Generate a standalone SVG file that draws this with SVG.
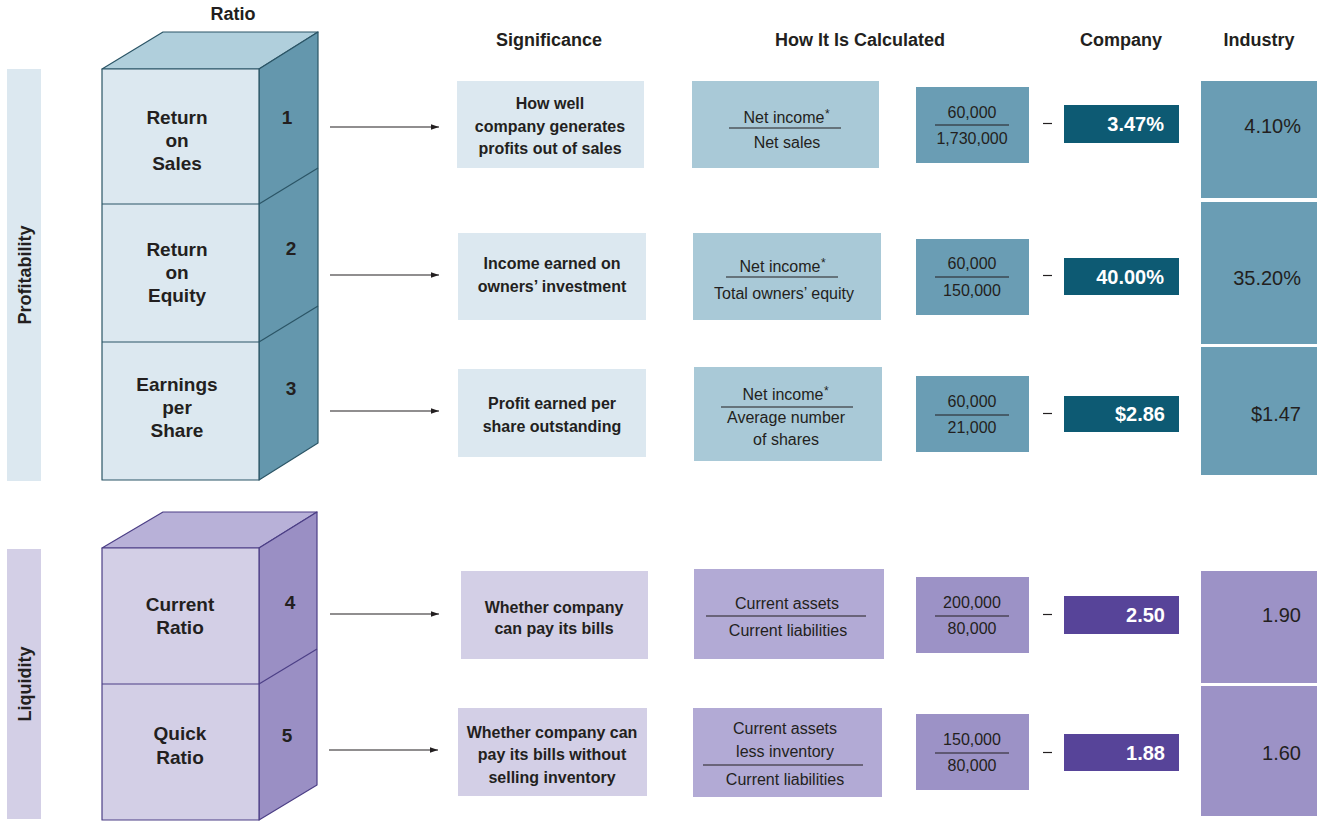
<svg xmlns="http://www.w3.org/2000/svg" width="1332" height="828" viewBox="0 0 1332 828">
<style>
text{font-family:"Liberation Sans",Arial,sans-serif;fill:#231f20}
.h{font-size:18px;font-weight:bold;text-anchor:middle}
.lab{font-size:19px;font-weight:bold;text-anchor:middle}
.sig{font-size:16px;font-weight:bold;text-anchor:middle}
.calc{font-size:16px;text-anchor:middle}
.ast{font-size:12px}
.num{font-size:16px;text-anchor:middle}
.co{font-size:20px;font-weight:bold;text-anchor:end;fill:#ffffff}
.ind{font-size:20px;text-anchor:end}
.p-light{fill:#dce8f0}
.p-top{fill:#b0cfdc}
.p-side{fill:#6497ad}
.p-calc{fill:#a9c9d7}
.p-num{fill:#6a9db4}
.p-co{fill:#0d5a73}
.l-light{fill:#d3cfe6}
.l-top{fill:#b8b1d8}
.l-side{fill:#9a8fc4}
.l-calc{fill:#b2aad5}
.l-num{fill:#9c92c6}
.l-co{fill:#574499}
.pe{stroke:#2b5566;stroke-width:1.2;stroke-linejoin:round}
.le{stroke:#4c3f86;stroke-width:1.2;stroke-linejoin:round}
.fl{stroke:#231f20;stroke-width:1.2}
.arrow{stroke:#231f20;stroke-width:1.2;fill:none;marker-end:url(#ah)}
</style>
<defs>
<marker id="ah" viewBox="0 0 10 10" refX="10" refY="5" markerWidth="8" markerHeight="8" markerUnits="userSpaceOnUse" orient="auto">
<path d="M0,1.5 L10,5 L0,8.5 Z" fill="#231f20"/>
</marker>
</defs>
<rect width="1332" height="828" fill="#ffffff"/>

<g id="headers">
<text class="h" x="233" y="20">Ratio</text>
<text class="h" x="549" y="46">Significance</text>
<text class="h" x="860" y="46">How It Is Calculated</text>
<text class="h" x="1121" y="46">Company</text>
<text class="h" x="1259" y="46">Industry</text>
</g>

<g id="profitability-bar">
<rect class="p-light" x="7" y="69" width="34" height="412"/>
<text class="h" transform="translate(31,275) rotate(-90)">Profitability</text>
</g>

<g id="liquidity-bar">
<rect class="l-light" x="7" y="549" width="34" height="270"/>
<text class="h" transform="translate(31,684) rotate(-90)">Liquidity</text>
</g>

<g id="cube-profitability">
<polygon class="p-top pe" points="102,69 163,32 318,32 259,69"/>
<polygon class="p-side pe" points="259,69 318,32 318,443 259,480"/>
<rect class="p-light pe" x="102" y="69" width="157" height="411"/>
<line class="pe" x1="102" y1="204" x2="259" y2="204"/>
<line class="pe" x1="102" y1="342" x2="259" y2="342"/>
<line class="pe" x1="259" y1="204" x2="318" y2="168"/>
<line class="pe" x1="259" y1="342" x2="318" y2="306"/>
</g>

<g id="ratio-1">
<text class="lab" x="177" y="124">Return</text>
<text class="lab" x="177" y="147">on</text>
<text class="lab" x="177" y="170">Sales</text>
<text class="lab" x="287" y="124">1</text>
</g>
<g id="ratio-2">
<text class="lab" x="177" y="256">Return</text>
<text class="lab" x="177" y="279">on</text>
<text class="lab" x="177" y="302">Equity</text>
<text class="lab" x="291" y="255">2</text>
</g>
<g id="ratio-3">
<text class="lab" x="177" y="391">Earnings</text>
<text class="lab" x="177" y="414">per</text>
<text class="lab" x="177" y="437">Share</text>
<text class="lab" x="291" y="395">3</text>
</g>

<g id="cube-liquidity">
<polygon class="l-top le" points="102,548 163,512 317,512 259,548"/>
<polygon class="l-side le" points="259,548 317,512 317,785 259,820"/>
<rect class="l-light le" x="102" y="548" width="157" height="272"/>
<line class="le" x1="102" y1="684" x2="259" y2="684"/>
<line class="le" x1="259" y1="684" x2="317" y2="649"/>
</g>

<g id="ratio-4">
<text class="lab" x="180" y="611">Current</text>
<text class="lab" x="180" y="634">Ratio</text>
<text class="lab" x="290" y="609">4</text>
</g>
<g id="ratio-5">
<text class="lab" x="180" y="740">Quick</text>
<text class="lab" x="180" y="764">Ratio</text>
<text class="lab" x="287" y="742">5</text>
</g>

<g id="connectors">
<line class="arrow" x1="330" y1="127" x2="439" y2="127"/>
<line class="arrow" x1="330" y1="275" x2="439" y2="275"/>
<line class="arrow" x1="330" y1="411" x2="439" y2="411"/>
<line class="arrow" x1="330" y1="614" x2="439" y2="614"/>
<line class="arrow" x1="329" y1="750" x2="438" y2="750"/>
</g>

<g id="sig-1">
<rect class="p-light" x="457" y="81" width="187" height="87"/>
<text class="sig" x="550" y="109">How well</text>
<text class="sig" x="550" y="132">company generates</text>
<text class="sig" x="550" y="154">profits out of sales</text>
</g>
<g id="sig-2">
<rect class="p-light" x="458" y="233" width="188" height="87"/>
<text class="sig" x="552" y="269">Income earned on</text>
<text class="sig" x="552" y="292">owners’ investment</text>
</g>
<g id="sig-3">
<rect class="p-light" x="458" y="369" width="188" height="88"/>
<text class="sig" x="552" y="409">Profit earned per</text>
<text class="sig" x="552" y="432">share outstanding</text>
</g>
<g id="sig-4">
<rect class="l-light" x="461" y="571" width="187" height="88"/>
<text class="sig" x="554" y="613">Whether company</text>
<text class="sig" x="554" y="634">can pay its bills</text>
</g>
<g id="sig-5">
<rect class="l-light" x="458" y="708" width="189" height="88"/>
<text class="sig" x="552" y="738">Whether company can</text>
<text class="sig" x="552" y="760">pay its bills without</text>
<text class="sig" x="552" y="783">selling inventory</text>
</g>

<g id="calc-1">
<rect class="p-calc" x="692" y="81" width="187" height="87"/>
<text class="calc" x="784" y="123">Net income</text>
<text class="ast" x="825" y="118">*</text>
<line class="fl" x1="729" y1="128" x2="841" y2="128"/>
<text class="calc" x="787" y="148">Net sales</text>
</g>
<g id="calc-2">
<rect class="p-calc" x="693" y="233" width="188" height="87"/>
<text class="calc" x="780" y="272">Net income</text>
<text class="ast" x="821" y="267">*</text>
<line class="fl" x1="726" y1="277" x2="838" y2="277"/>
<text class="calc" x="784" y="299">Total owners’ equity</text>
</g>
<g id="calc-3">
<rect class="p-calc" x="694" y="367" width="188" height="94"/>
<text class="calc" x="783" y="400">Net income</text>
<text class="ast" x="824" y="395">*</text>
<line class="fl" x1="721" y1="407" x2="853" y2="407"/>
<text class="calc" x="786" y="423">Average number</text>
<text class="calc" x="786" y="445">of shares</text>
</g>
<g id="calc-4">
<rect class="l-calc" x="694" y="569" width="190" height="90"/>
<text class="calc" x="787" y="609">Current assets</text>
<line class="fl" x1="706" y1="616" x2="866" y2="616"/>
<text class="calc" x="788" y="636">Current liabilities</text>
</g>
<g id="calc-5">
<rect class="l-calc" x="693" y="708" width="189" height="89"/>
<text class="calc" x="785" y="734">Current assets</text>
<text class="calc" x="785" y="757">less inventory</text>
<line class="fl" x1="703" y1="765" x2="863" y2="765"/>
<text class="calc" x="785" y="785">Current liabilities</text>
</g>

<g id="num-1">
<rect class="p-num" x="916" y="87" width="113" height="76"/>
<text class="num" x="972" y="118">60,000</text>
<line class="fl" x1="935" y1="125" x2="1009" y2="125"/>
<text class="num" x="972" y="144">1,730,000</text>
</g>
<g id="num-2">
<rect class="p-num" x="916" y="239" width="113" height="76"/>
<text class="num" x="972" y="269">60,000</text>
<line class="fl" x1="935" y1="277" x2="1009" y2="277"/>
<text class="num" x="972" y="296">150,000</text>
</g>
<g id="num-3">
<rect class="p-num" x="916" y="376" width="113" height="76"/>
<text class="num" x="972" y="407">60,000</text>
<line class="fl" x1="935" y1="415" x2="1009" y2="415"/>
<text class="num" x="972" y="433">21,000</text>
</g>
<g id="num-4">
<rect class="l-num" x="916" y="577" width="113" height="76"/>
<text class="num" x="972" y="608">200,000</text>
<line class="fl" x1="935" y1="616" x2="1009" y2="616"/>
<text class="num" x="972" y="634">80,000</text>
</g>
<g id="num-5">
<rect class="l-num" x="916" y="714" width="113" height="76"/>
<text class="num" x="972" y="745">150,000</text>
<line class="fl" x1="935" y1="753" x2="1009" y2="753"/>
<text class="num" x="972" y="771">80,000</text>
</g>

<g id="dashes">
<line class="fl" x1="1043" y1="123.5" x2="1052" y2="123.5"/>
<line class="fl" x1="1043" y1="275.5" x2="1052" y2="275.5"/>
<line class="fl" x1="1043" y1="413.5" x2="1052" y2="413.5"/>
<line class="fl" x1="1043" y1="614.5" x2="1052" y2="614.5"/>
<line class="fl" x1="1043" y1="752.5" x2="1052" y2="752.5"/>
</g>

<g id="company-1">
<rect class="p-co" x="1064" y="105" width="115" height="38"/>
<text class="co" x="1164" y="131">3.47%</text>
</g>
<g id="company-2">
<rect class="p-co" x="1064" y="258" width="115" height="37"/>
<text class="co" x="1164" y="284">40.00%</text>
</g>
<g id="company-3">
<rect class="p-co" x="1064" y="396" width="115" height="36"/>
<text class="co" x="1165" y="421">$2.86</text>
</g>
<g id="company-4">
<rect class="l-co" x="1064" y="596" width="115" height="38"/>
<text class="co" x="1165" y="622">2.50</text>
</g>
<g id="company-5">
<rect class="l-co" x="1064" y="734" width="115" height="37"/>
<text class="co" x="1165" y="760">1.88</text>
</g>

<g id="industry-1">
<rect class="p-num" x="1201" y="81" width="116" height="117"/>
<text class="ind" x="1301" y="133">4.10%</text>
</g>
<g id="industry-2">
<rect class="p-num" x="1201" y="202" width="116" height="142"/>
<text class="ind" x="1301" y="285">35.20%</text>
</g>
<g id="industry-3">
<rect class="p-num" x="1201" y="347" width="116" height="128"/>
<text class="ind" x="1301" y="421">$1.47</text>
</g>
<g id="industry-4">
<rect class="l-num" x="1201" y="571" width="116" height="112"/>
<text class="ind" x="1301" y="622">1.90</text>
</g>
<g id="industry-5">
<rect class="l-num" x="1201" y="686" width="116" height="130"/>
<text class="ind" x="1301" y="760">1.60</text>
</g>
</svg>
